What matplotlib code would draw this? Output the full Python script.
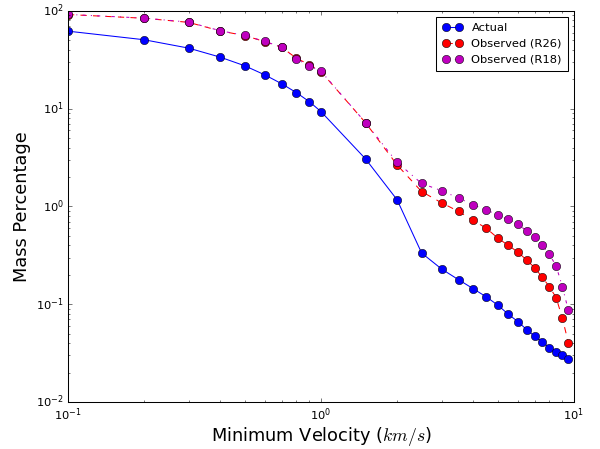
import numpy as np
import matplotlib
matplotlib.use("Agg")
import matplotlib.pyplot as plt

plt.style.use('classic')

velocity = [0.1, 0.2, 0.3, 0.4, 0.5, 0.6, 0.7, 0.8, 0.9, 1.0, 1.5, 2.0,
            2.5, 3.0, 3.5, 4.0, 4.5, 5.0, 5.5, 6.0, 6.5, 7.0, 7.5, 8.0,
            8.5, 9.0, 9.5]

actual = [62.2, 50.8, 41.7, 33.7, 27.5, 22.2, 18.0, 14.6, 11.8, 9.36,
          3.07, 1.17, 0.334, 0.229, 0.178, 0.144, 0.119, 0.098, 0.079,
          0.0665, 0.055, 0.047, 0.041, 0.036, 0.0327, 0.0303, 0.0275]

observed_r26 = [92.0, 84.3, 76.5, 62.5, 56.0, 48.6, 42.5, 32.8, 28.3, 24.0,
                7.2, 2.66, 1.42, 1.09, 0.89, 0.72, 0.60, 0.475, 0.40,
                0.342, 0.283, 0.236, 0.188, 0.151, 0.117, 0.072, 0.0405]

observed_r18 = [92.3, 84.6, 76.9, 62.8, 56.2, 48.8, 42.7, 32.2, 27.5, 24.2,
                7.22, 2.83, 1.72, 1.45, 1.22, 1.04, 0.93, 0.81, 0.738,
                0.656, 0.565, 0.482, 0.40, 0.323, 0.247, 0.151, 0.087]

fig = plt.figure(figsize=(8, 5.9867), dpi=75)
ax = fig.add_axes([0.1133, 0.1047, 0.8433, 0.8708])

ax.plot(velocity, actual, 'b-o', markersize=8, linewidth=1, label='Actual')
ax.plot(velocity, observed_r26, 'r--o', markersize=8, linewidth=1, label='Observed (R26)')
ax.plot(velocity, observed_r18, 'm-.o', markersize=8, linewidth=1, label='Observed (R18)')

ax.set_xscale('log')
ax.set_yscale('log')
ax.set_xlim(0.1, 10)
ax.set_ylim(0.01, 100)
ax.tick_params(labelsize=11)

ax.set_xlabel('Minimum Velocity ($km/s$)', fontsize=17, labelpad=2)
ax.set_ylabel('Mass Percentage', fontsize=17)

ax.legend(loc='upper right', fontsize=11, borderpad=0.55, handlelength=1.7)

fig.savefig('out.png', dpi=75)
